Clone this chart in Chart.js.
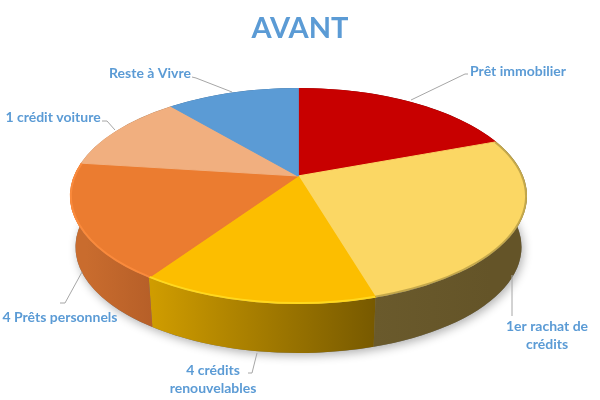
<!DOCTYPE html>
<html>
<head>
<meta charset="utf-8">
<style>
  html, body { margin: 0; padding: 0; background: #fff; }
</style>
<script src="https://cdn.jsdelivr.net/npm/chart.js@4"></script>
</head>
<body>
<canvas id="pie" width="600" height="400"></canvas>
<script>
// values
const categories = ['Prêt immobilier', '1er rachat de crédits', '4 crédits renouvelables', '4 Prêts personnels', '1 crédit voiture', 'Reste à Vivre'];
const shares = [19.4, 25.9, 14.3, 17.3, 11.7, 11.3];

const sliceColors = ['#C80000', '#FBD764', '#FCBE00', '#EB7C30', '#F1AF7F', '#5B9BD5'];
// wall gradient, left then right
const wallColors = [['#7a0000', '#7a0000'], ['#6a5a2c', '#645428'], ['#cf9c00', '#785a00'], ['#c96c2e', '#b65f28'], ['#a87a58', '#a87a58'], ['#3f6b94', '#3f6b94']];
const rimColors = [null, 'rgba(70,58,20,0.3)', '#FFD81E', '#FA8A3C', null, null];

// top face and base ellipses, the apex sits above the ellipse centre because of the perspective
const top3d = { x: 298.5, y: 196, rx: 228.5, ry: 108 };
const base3d = { x: 298.5, y: 247, rx: 223, ry: 106 };
const apex = { x: 298, y: 176 };

// text lines with anchor, and leader line points
const pieLabels = [
  { lines: ['Prêt immobilier'], x: 518, y: 71, leader: [[411, 100], [465, 74], [468, 74]] },
  { lines: ['1er rachat de', 'crédits'], x: 547, y: 326, leader: [[512, 275], [512, 316]] },
  { lines: ['4 crédits', 'renouvelables'], x: 213, y: 370, leader: [[257, 353], [252, 373], [248, 373]] },
  { lines: ['4 Prêts personnels'], x: 60, y: 317, leader: [[82, 272], [65, 303], [60, 303]] },
  { lines: ['1 crédit voiture'], x: 53, y: 117, leader: [[115, 130], [107, 121], [102, 121]] },
  { lines: ['Reste à Vivre'], x: 150, y: 73, leader: [[232, 92], [196, 78], [192, 77]] }
];

// where a slice edge meets the top ellipse, as ellipse parameter
function edgeParam(angle) {
  const py = (apex.y - top3d.y) / top3d.ry;
  const px = (apex.x - top3d.x) / top3d.rx;
  const dx = Math.cos(angle), dy = Math.sin(angle);
  const b = px * dx + py * dy;
  const c = px * px + py * py - 1;
  const s = -b + Math.sqrt(b * b - c);
  return Math.atan2(py + s * dy, px + s * dx);
}

const pie3d = {
  id: 'pie3d',
  beforeDatasetsDraw(chart) {
    const ctx = chart.ctx;
    const arcs = chart.getDatasetMeta(0).data;

    // soft shadow under the base
    ctx.save();
    ctx.shadowColor = 'rgba(0,0,0,0.3)';
    ctx.shadowBlur = 10;
    ctx.shadowOffsetX = 2;
    ctx.shadowOffsetY = 3;
    ctx.fillStyle = '#777';
    ctx.beginPath();
    ctx.ellipse(base3d.x, base3d.y, base3d.rx, base3d.ry, 0, 0, Math.PI * 2);
    ctx.fill();
    ctx.restore();

    // walls
    arcs.forEach((arc, i) => {
      const t0 = edgeParam(arc.startAngle);
      const t1 = edgeParam(arc.endAngle);
      const x0 = base3d.x + base3d.rx * Math.cos(t0);
      const x1 = base3d.x + base3d.rx * Math.cos(t1);
      const grad = ctx.createLinearGradient(Math.min(x0, x1), 0, Math.max(x0, x1), 0);
      grad.addColorStop(0, wallColors[i][0]);
      grad.addColorStop(1, wallColors[i][1]);
      ctx.fillStyle = grad;
      ctx.beginPath();
      ctx.ellipse(top3d.x, top3d.y, top3d.rx, top3d.ry, 0, t0, t1);
      ctx.ellipse(base3d.x, base3d.y, base3d.rx, base3d.ry, 0, t1, t0, true);
      ctx.closePath();
      ctx.fill();
    });

    // top face: library arcs squashed, oversized, and cut by the ellipse
    const r = arcs[0].outerRadius;
    const k = 1.35;
    ctx.save();
    ctx.beginPath();
    ctx.ellipse(top3d.x, top3d.y, top3d.rx, top3d.ry, 0, 0, Math.PI * 2);
    ctx.clip();
    ctx.translate(apex.x, apex.y);
    ctx.scale(k * top3d.rx / r, k * top3d.ry / r);
    ctx.translate(-arcs[0].x, -arcs[0].y);
  },
  afterDatasetsDraw(chart) {
    const ctx = chart.ctx;
    ctx.restore();

    // bevel along the front edge
    chart.getDatasetMeta(0).data.forEach((arc, i) => {
      if (!rimColors[i]) return;
      ctx.save();
      ctx.strokeStyle = rimColors[i];
      ctx.lineWidth = 2;
      ctx.beginPath();
      ctx.ellipse(top3d.x, top3d.y, top3d.rx - 1, top3d.ry - 1, 0, edgeParam(arc.startAngle), edgeParam(arc.endAngle));
      ctx.stroke();
      ctx.restore();
    });

    // outside labels
    ctx.save();
    ctx.strokeStyle = '#A6A6A6';
    ctx.lineWidth = 1;
    ctx.fillStyle = '#5B9BD5';
    ctx.font = 'bold 14px Lato';
    ctx.textAlign = 'center';
    ctx.textBaseline = 'middle';
    pieLabels.forEach(l => {
      ctx.beginPath();
      l.leader.forEach((p, i) => i ? ctx.lineTo(p[0], p[1]) : ctx.moveTo(p[0], p[1]));
      ctx.stroke();
      l.lines.forEach((t, i) => ctx.fillText(t, l.x, l.y + i * 18.5));
    });
    ctx.restore();
  }
};

new Chart(document.getElementById('pie'), {
  type: 'pie',
  data: {
    labels: categories,
    datasets: [{
      data: shares,
      backgroundColor: sliceColors,
      borderColor: sliceColors,
      borderWidth: 1,
      clip: false
    }]
  },
  options: {
    responsive: false,
    animation: false,
    events: [],
    plugins: {
      legend: { display: false },
      tooltip: { enabled: false },
      title: {
        display: true,
        text: 'AVANT',
        color: '#5B9BD5',
        font: { family: 'Lato', size: 29, weight: 'bold' },
        padding: { top: 11, bottom: 8 }
      }
    }
  },
  plugins: [pie3d]
});
</script>
</body>
</html>
